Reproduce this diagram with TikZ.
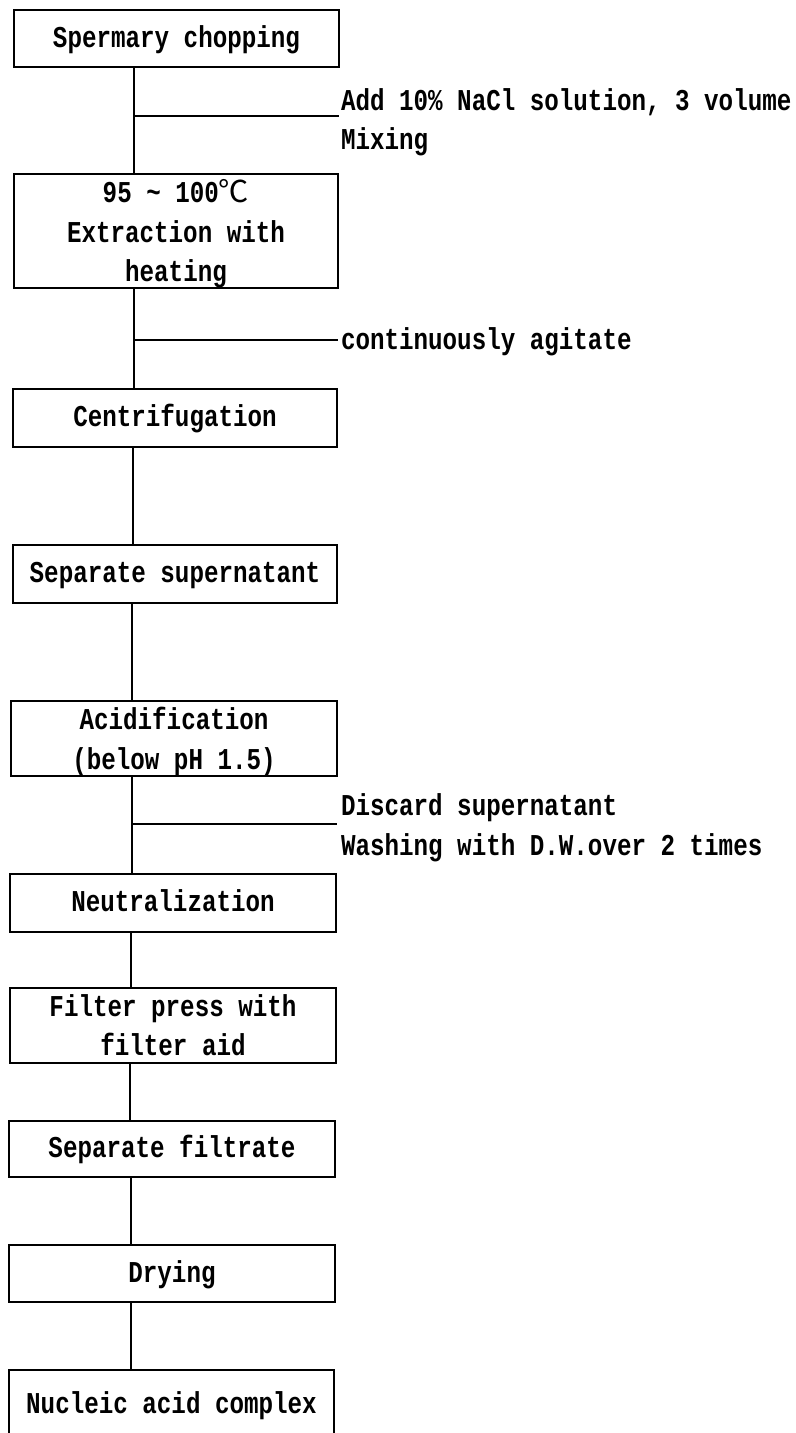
\documentclass[tikz,border=0pt]{standalone}
\usepackage{fontspec}
\newfontfamily\flowfont[FakeStretch=0.8]{Liberation Mono}
\newfontfamily\cjkfont{Noto Sans CJK SC}
\begin{document}
\begin{tikzpicture}[x=0.75pt,y=-0.75pt,
  every node/.style={font=\flowfont\bfseries\fontsize{22.7pt}{29.6pt}\selectfont,
    inner sep=0pt, outer sep=0pt},
  stepbox/.style={draw, line width=1.4pt, rectangle, minimum width=243.75pt,
    align=center, text height=13pt, text depth=0pt},
  note/.style={anchor=base west},
  link/.style={line width=1.4pt}]
\useasboundingbox (0,0) rectangle (795,1433);
\clip (0,0) rectangle (795,1433);

% process steps (multi-line boxes: height spans first cap line to last baseline)
\node[stepbox, minimum height=42.75pt] (b1) at (176.5,38.5) {Spermary chopping};
\node[stepbox, minimum width=243pt, minimum height=85.5pt, text height=76pt] (b2) at (176,231)
  {95 \textasciitilde{} 100{\cjkfont\mdseries ℃}\\Extraction with\\heating};
\node[stepbox, minimum width=243pt, minimum height=43.5pt] (b3) at (175,418) {Centrifugation};
\node[stepbox, minimum width=243pt, minimum height=43.5pt] (b4) at (175,574) {Separate supernatant};
\node[stepbox, minimum width=244.5pt, minimum height=56.25pt, text height=46pt] (b5) at (174,738.5)
  {Acidification\\(below pH 1.5)};
\node[stepbox, minimum width=244.5pt, minimum height=43.5pt] (b6) at (173,903) {Neutralization};
\node[stepbox, minimum width=244.5pt, minimum height=56.25pt, text height=45pt] (b7) at (173,1025.5)
  {Filter press with\\filter aid};
\node[stepbox, minimum width=244.5pt, minimum height=42pt] (b8) at (172,1149) {Separate filtrate};
\node[stepbox, minimum width=244.5pt, minimum height=42.75pt] (b9) at (172,1273.5) {Drying};
\node[stepbox, minimum height=52.5pt] (b10) at (171.5,1405) {Nucleic acid complex};

% spine positions
\coordinate (v1) at (134,0);
\coordinate (v2) at (134,0);
\coordinate (v3) at (133,0);
\coordinate (v4) at (132,0);
\coordinate (v5) at (132,0);
\coordinate (v6) at (131,0);
\coordinate (v7) at (130,0);
\coordinate (v8) at (131,0);
\coordinate (v9) at (131,0);

\draw[link] (b1.south -| v1) -- (b2.north -| v1);
\draw[link] (b2.south -| v2) -- (b3.north -| v2);
\draw[link] (b3.south -| v3) -- (b4.north -| v3);
\draw[link] (b4.south -| v4) -- (b5.north -| v4);
\draw[link] (b5.south -| v5) -- (b6.north -| v5);
\draw[link] (b6.south -| v6) -- (b7.north -| v6);
\draw[link] (b7.south -| v7) -- (b8.north -| v7);
\draw[link] (b8.south -| v8) -- (b9.north -| v8);
\draw[link] (b9.south -| v9) -- (b10.north -| v9);

% side branches with their notes
\coordinate (t1) at (339,116);
\coordinate (t2) at (338,340);
\coordinate (t3) at (337,824);
\draw[link] (v1 |- t1) -- (t1);
\draw[link] (v2 |- t2) -- (t2);
\draw[link] (v5 |- t3) -- (t3);

\node[note] (n1) at (341,111) {Add 10\% NaCl solution, 3 volume};
\node[note] (n2) at (341,150) {Mixing};
\node[note] (n3) at (341,350) {continuously agitate};
\node[note] (n4) at (341,815) {Discard supernatant};
\node[note] (n5) at (341,855) {Washing with D.W.over 2 times};
\end{tikzpicture}
\end{document}
